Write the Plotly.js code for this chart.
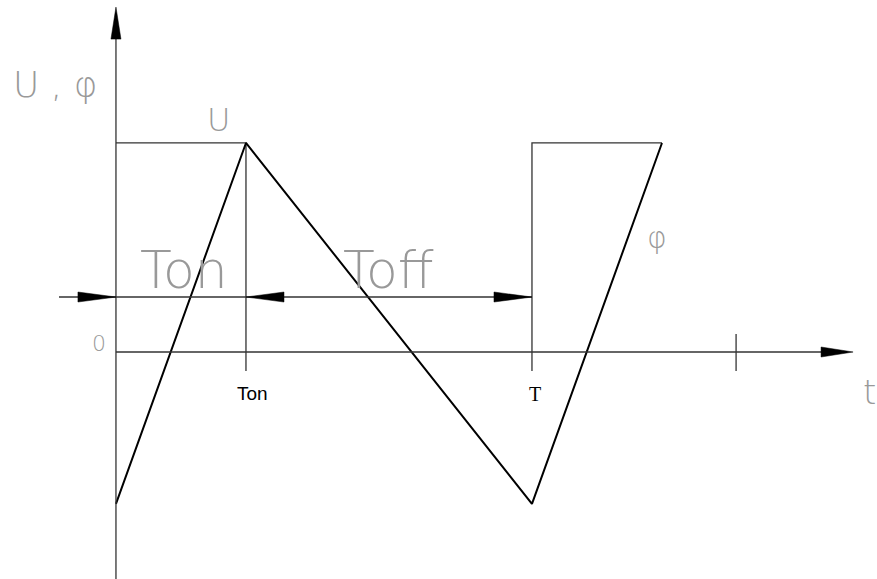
<!DOCTYPE html>
<html><head><meta charset="utf-8">
<script src="https://cdn.plot.ly/plotly-3.0.1.min.js"></script>
<style>html,body{margin:0;padding:0;background:#fff}#plot{width:877px;height:579px}</style>
</head><body><div id="plot"></div>
<script>
// Time axis in units of Ton
const tPhi = [0, 1, 3.2, 4.2];
const phiVals = [-0.727, 1, -0.727, 1];
const tU1 = [0, 1, 1];
const uVals1 = [1, 1, 0];
const tU2 = [3.2, 3.2, 4.2];
const uVals2 = [0, 1, 1];
const tickT = [1, 3.2, 4.77];
const tickLabels = ["Ton", "T", ""];
const dimY = 0.263;

const xr = [-0.892, 5.854], yr = [-1.086, 1.684];
const W = 877, H = 579;
const sx = W / (xr[1] - xr[0]), sy = H / (yr[1] - yr[0]);
const axCol = '#333';

function arrow(tx, ty, dx, dy, lenPx, halfPx) {
  const bx = tx - dx * lenPx / sx, by = ty - dy * lenPx / sy;
  const px = -dy, py = dx;
  const p1x = bx + px * halfPx / sx, p1y = by + py * halfPx / sy;
  const p2x = bx - px * halfPx / sx, p2y = by - py * halfPx / sy;
  return {type: 'path', xref: 'x', yref: 'y',
    path: `M${tx},${ty} L${p1x},${p1y} L${p2x},${p2y} Z`,
    fillcolor: '#000', line: {color: '#000', width: 0.5}};
}
function seg(x0, y0, x1, y1, w, c) {
  return {type: 'line', xref: 'x', yref: 'y', x0, y0, x1, y1, line: {color: c || axCol, width: w || 1.3}};
}

const shapes = [
  seg(0, -1.086, 0, 1.55),
  seg(0, 0, 5.5, 0),
  arrow(0, 1.65, 0, 1, 32, 5),
  arrow(5.67, 0, 1, 0, 32, 5),
  seg(1, 0, 1, -0.091),
  seg(3.2, 0, 3.2, -0.091),
  seg(tickT[2], 0.086, tickT[2], -0.091),
  seg(-0.438, dimY, 3.2, dimY),
  arrow(0, dimY, 1, 0, 38, 5),
  arrow(1, dimY, -1, 0, 38, 5),
  arrow(3.2, dimY, 1, 0, 38, 5)
];

const traces = [
  {x: tU1, y: uVals1, mode: 'lines', line: {color: axCol, width: 1.3}, hoverinfo: 'skip'},
  {x: tU2, y: uVals2, mode: 'lines', line: {color: axCol, width: 1.3}, hoverinfo: 'skip'},
  {x: tPhi, y: phiVals, mode: 'lines', line: {color: '#000', width: 2}, hoverinfo: 'skip'}
];

const gray = '#999';
const thin = {family: 'DejaVu Sans ExtraLight, DejaVu Sans', weight: 200, color: gray};
function lab(x, y, text, size, font, xa) {
  return {x, y, xref: 'x', yref: 'y', text, showarrow: false, xanchor: xa || 'center', yanchor: 'middle',
    font: Object.assign({}, font, {size})};
}
const annotations = [
  lab(-0.47, 1.28, 'U , φ', 36, thin),
  lab(0.79, 1.11, 'U', 32, thin),
  lab(0.52, 0.39, 'Ton', 52, thin),
  lab(2.1, 0.39, 'Toff', 52, thin),
  lab(-0.13, 0.04, '0', 22, thin),
  lab(5.8, -0.19, 't', 34, thin),
  lab(4.16, 0.55, 'φ', 30, thin),
  lab(tickT[0] + 0.05, -0.2, tickLabels[0], 19, {family: 'Liberation Sans', color: '#000'}),
  lab(tickT[1] + 0.02, -0.2, tickLabels[1], 20, {family: 'Liberation Serif', color: '#000'})
];

const layout = {
  width: W, height: H, margin: {l: 0, r: 0, t: 0, b: 0},
  paper_bgcolor: '#fff', plot_bgcolor: '#fff', showlegend: false,
  xaxis: {range: xr, visible: false, fixedrange: true},
  yaxis: {range: yr, visible: false, fixedrange: true},
  shapes, annotations
};
Plotly.newPlot('plot', traces, layout, {staticPlot: true});
</script></body></html>
